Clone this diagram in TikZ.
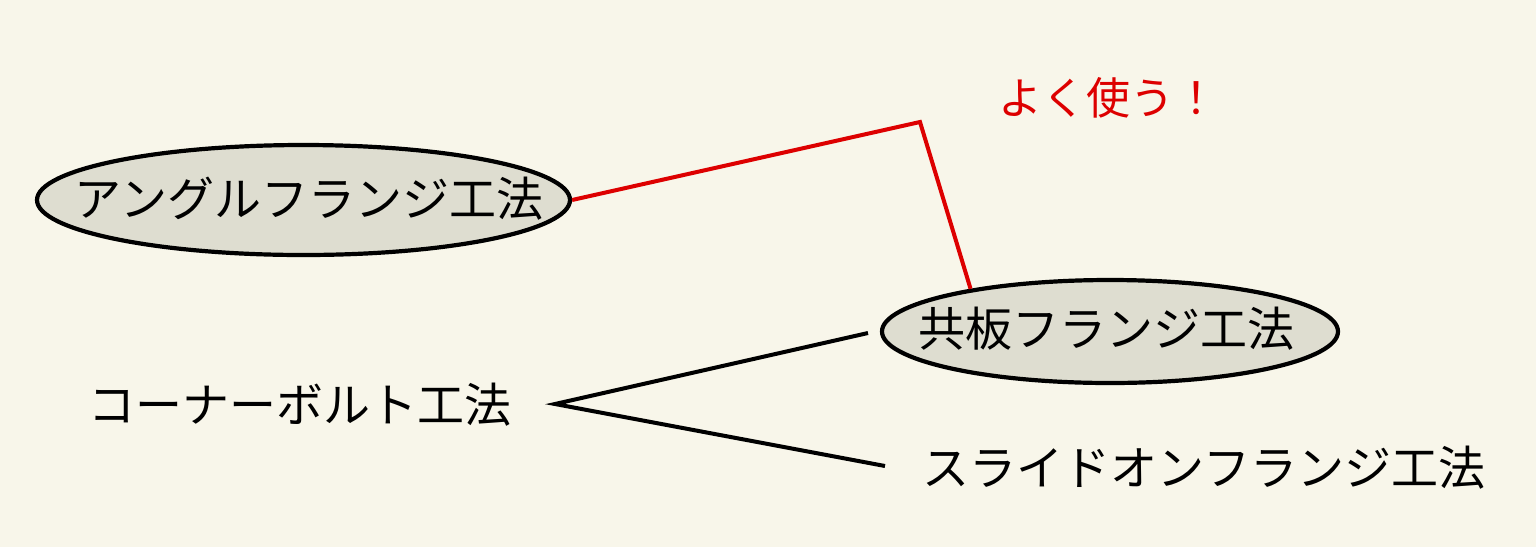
\documentclass[tikz,border=0pt]{standalone}
\usepackage{fontspec}
\newfontfamily\jpfont{Noto Sans CJK JP}
\usetikzlibrary{shapes.geometric}
\definecolor{bgc}{HTML}{F8F6EA}
\definecolor{ellfill}{HTML}{DEDDD0}
\definecolor{redc}{HTML}{DD0000}
\tikzset{
  jtext/.style={font=\jpfont\fontsize{47}{56}\selectfont, inner sep=0pt, text=black},
  ellbox/.style={ellipse, draw=black, line width=4.2pt, fill=ellfill, inner sep=0pt},
  redline/.style={draw=redc, line width=4pt, line join=miter},
  blackline/.style={draw=black, line width=4pt},
}
\begin{document}
\begin{tikzpicture}[x=1pt,y=-1pt]
  \fill[bgc] (0,0) rectangle (1536,547);
  \useasboundingbox (0,0) rectangle (1536,547);
  \node[ellbox, minimum width=533pt, minimum height=110pt] (e1) at (303.5,200) {};
  \node[ellbox, minimum width=456pt, minimum height=103pt] (e2) at (1110,331.5) {};
  \node[jtext] (e1t) at (309,199) {アングルフランジ工法};
  \node[jtext] (e2t) at (1106,329) {共板フランジ工法};
  \node[jtext] (corner) at (300,405) {コーナーボルト工法};
  \node[jtext] (slide) at (1204,468) {スライドオンフランジ工法};
  \node[jtext, text=redc, font=\jpfont\fontsize{44}{52}\selectfont] (often) at (1108,98) {よく使う！};
  \coordinate (bend) at (920,122);
  \coordinate (apex) at (555,404);
  \coordinate (toE2) at (868,333);
  \coordinate (toSlide) at (885,466);
  \draw[redline] (e1.east) -- (bend) -- (e2.163);
  \draw[blackline] (toE2) -- (apex) -- (toSlide);
\end{tikzpicture}
\end{document}
